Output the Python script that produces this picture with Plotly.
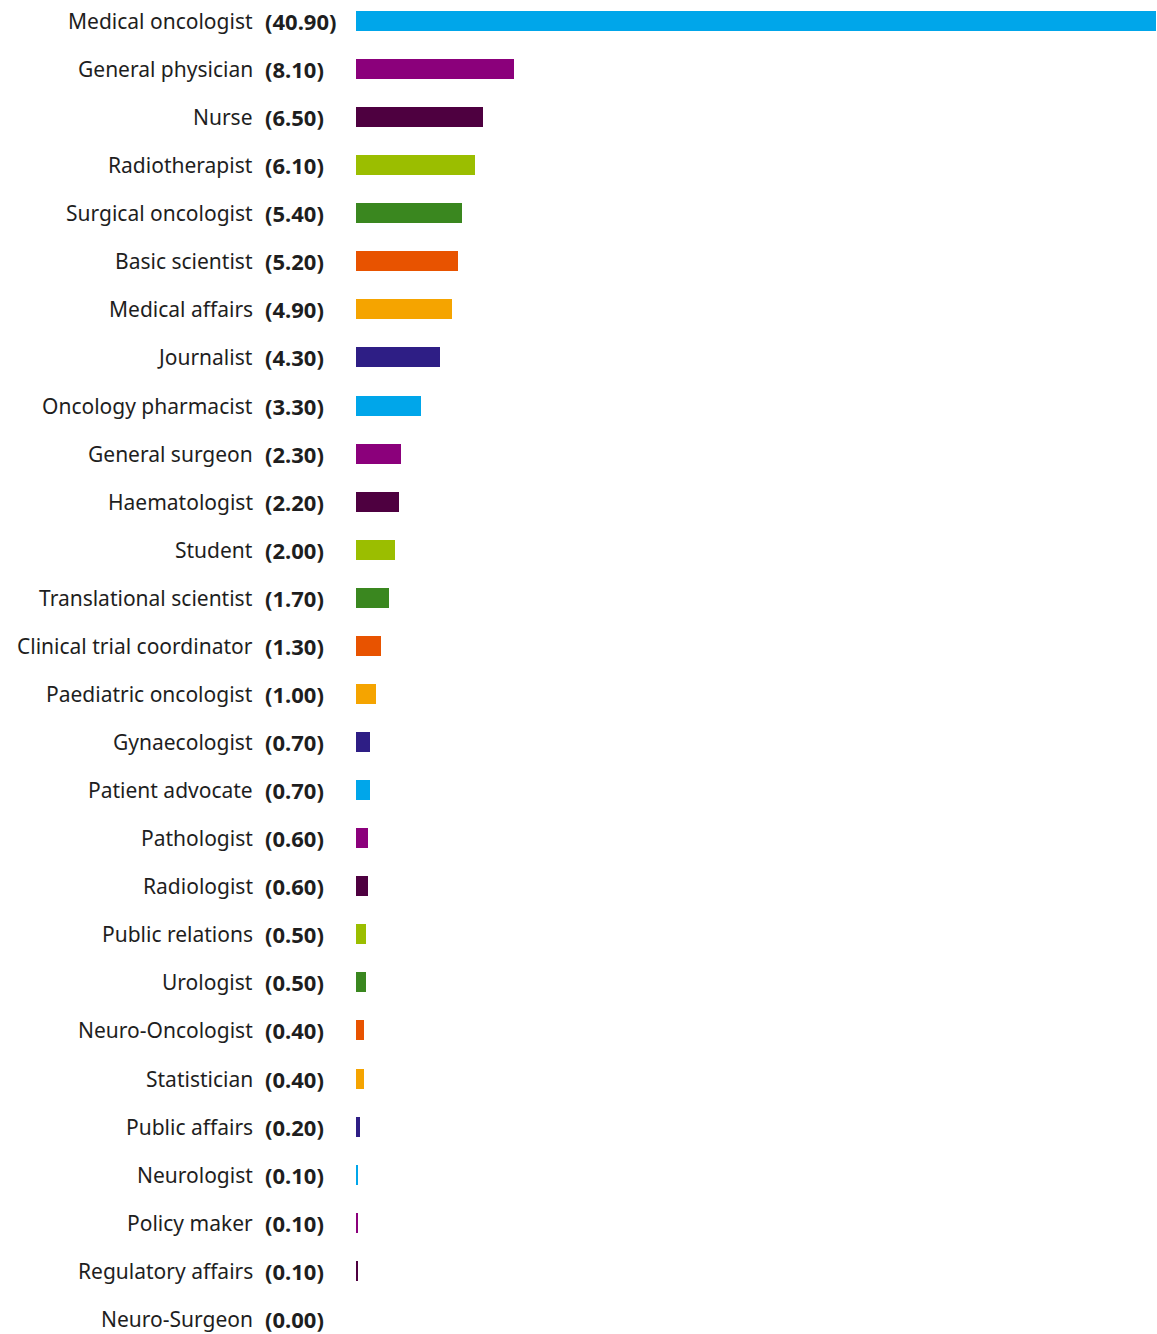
import plotly.graph_objects as go

roles = ["Medical oncologist", "General physician", "Nurse", "Radiotherapist", "Surgical oncologist",
         "Basic scientist", "Medical affairs", "Journalist", "Oncology pharmacist", "General surgeon",
         "Haematologist", "Student", "Translational scientist", "Clinical trial coordinator",
         "Paediatric oncologist", "Gynaecologist", "Patient advocate", "Pathologist", "Radiologist",
         "Public relations", "Urologist", "Neuro-Oncologist", "Statistician", "Public affairs",
         "Neurologist", "Policy maker", "Regulatory affairs", "Neuro-Surgeon"]
values = [40.9, 8.1, 6.5, 6.1, 5.4, 5.2, 4.9, 4.3, 3.3, 2.3, 2.2, 2.0, 1.7, 1.3, 1.0, 0.7, 0.7,
          0.6, 0.6, 0.5, 0.5, 0.4, 0.4, 0.2, 0.1, 0.1, 0.1, 0.0]
palette = ["#00A6EA", "#8B007B", "#4E0040", "#9BBE00", "#3A871F", "#E85300", "#F5A400", "#2E1E85"]

W, H = 1157, 1334
left = 356
plot_w = 800
right = W - left - plot_w
row_px = 48.07
first_c = 21

positions = list(range(len(roles)))
colors = [palette[i % len(palette)] for i in positions]

fig = go.Figure(go.Bar(
    x=values, y=positions, orientation="h",
    marker=dict(color=colors, line=dict(width=0)),
    width=20 / row_px, hoverinfo="skip"))

font = "Noto Sans"
ann = []
for i, (r, v) in enumerate(zip(roles, values)):
    ann.append(dict(x=-101 / plot_w, y=i, xref="paper", yref="y", text=r,
                    xanchor="right", yanchor="middle", showarrow=False,
                    font=dict(family=font, size=21, color="#1e1e1e")))
    ann.append(dict(x=-93 / plot_w, y=i, xref="paper", yref="y", text="<b>(%.2f)</b>" % v,
                    xanchor="left", yanchor="middle", showarrow=False,
                    font=dict(family=font, size=22, color="#1e1e1e")))

top_units = first_c / row_px
bottom_units = (H - (first_c + row_px * (len(roles) - 1))) / row_px
fig.update_layout(
    width=W, height=H, autosize=False,
    margin=dict(l=left, r=right, t=0, b=0, pad=0),
    paper_bgcolor="white", plot_bgcolor="white",
    xaxis=dict(range=[0, 40.9], visible=False, fixedrange=True),
    yaxis=dict(range=[len(roles) - 1 + bottom_units, -top_units], visible=False, fixedrange=True),
    annotations=ann, showlegend=False, bargap=0,
)
fig.write_html("out.html", config={"displayModeBar": False},
               post_script="document.body.style.margin='0';document.body.style.overflow='hidden';")
